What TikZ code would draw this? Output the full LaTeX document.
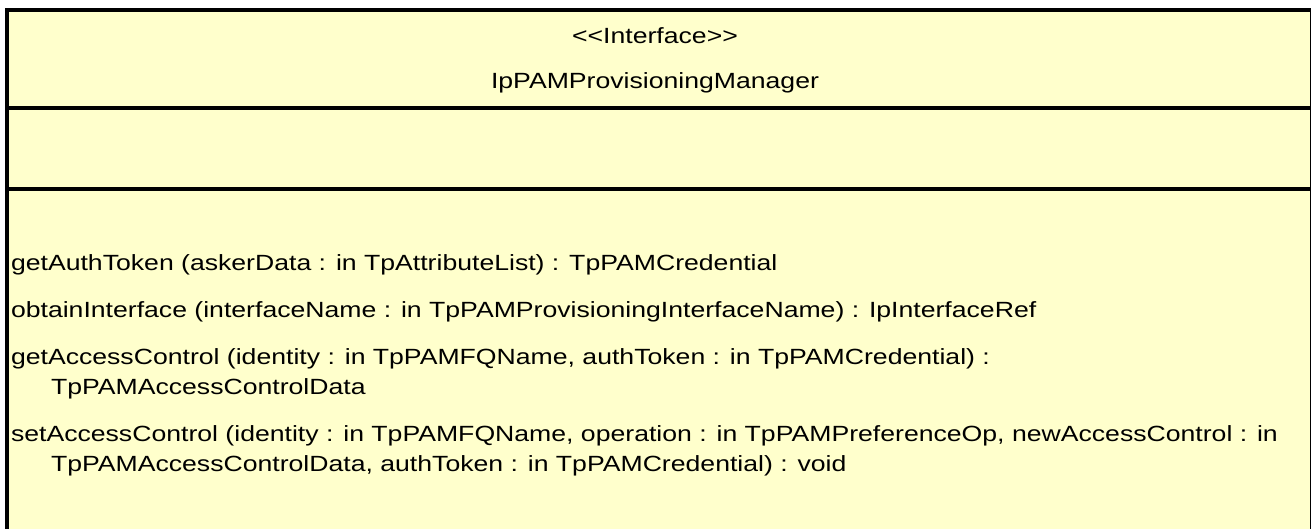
\documentclass[tikz,border=0pt]{standalone}
\usepackage{fontspec}
\setmainfont{Liberation Sans}
\definecolor{umlfill}{HTML}{FFFFCC}
\newcommand\hstr[1]{\scalebox{1.21}[1]{#1}}
\begin{document}
\begin{tikzpicture}[x=1pt,y=-1pt,
  every node/.style={inner sep=0pt, outer sep=0pt, font=\fontsize{22}{22}\selectfont},
  optext/.style={anchor=base west},
  hdr/.style={anchor=base},
  rulebar/.style={line width=4pt}]
\useasboundingbox (0,0) rectangle (1311,529);
\begin{scope}
\clip (0,0) rectangle (1311,529);
\fill[umlfill] (7,10) rectangle (1314,540);
\draw[rulebar] (7,540) -- (7,10) -- (1312,10) -- (1312,540);
\draw[rulebar] (7,108) -- (1312,108);
\draw[rulebar] (7,189) -- (1312,189);
\end{scope}
\node[hdr] (stereo) at (655,44) {\hstr{{<}{<}Interface{>}{>}}};
\node[hdr] (name) at (655,89) {\hstr{IpPAMProvisioningManager}};
\node[optext] (op1) at (11,270) {\hstr{getAuthToken (askerData : in TpAttributeList) : TpPAMCredential}};
\node[optext] (op2) at (11,317) {\hstr{obtainInterface (interfaceName : in TpPAMProvisioningInterfaceName) : IpInterfaceRef}};
\node[optext] (op3) at (11,364) {\hstr{getAccessControl (identity : in TpPAMFQName, authToken : in TpPAMCredential) :}};
\node[optext] (op3b) at (51,394) {\hstr{TpPAMAccessControlData}};
\node[optext] (op4) at (11,441) {\hstr{setAccessControl (identity : in TpPAMFQName, operation : in TpPAMPreferenceOp, newAccessControl : in}};
\node[optext] (op4b) at (51,471) {\hstr{TpPAMAccessControlData, authToken : in TpPAMCredential) : void}};
\end{tikzpicture}
\end{document}
